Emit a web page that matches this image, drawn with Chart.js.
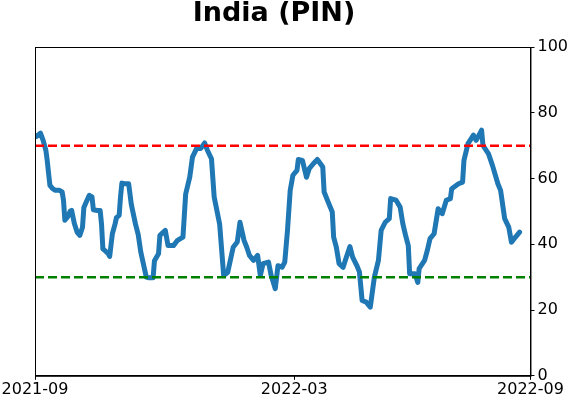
<!DOCTYPE html>
<html>
<head>
<meta charset="utf-8">
<script src="https://cdn.jsdelivr.net/npm/chart.js@4/dist/chart.umd.min.js"></script>
<style>
  html, body { margin: 0; padding: 0; background: #fff; }
  #wrap { width: 571px; height: 402px; }
</style>
</head>
<body>
<div id="wrap"><canvas id="chart"></canvas></div>
<script>
// ── Data (days since 2021-09-01, indicator value) ──────
const dayOffsets = [
    1, 4, 6, 8, 9, 10, 11, 13, 15, 18, 20, 21, 22, 24, 26, 27, 29, 31, 33, 35,
    36, 38, 40, 42, 43, 46, 48, 49, 50, 52, 54, 55, 57, 59, 60, 62, 63, 64, 66, 69,
    71, 74, 76, 78, 82, 84, 87, 88, 91, 92, 96, 98, 102, 105, 109, 111, 114, 116, 119, 122,
    125, 127, 130, 132, 136, 139, 142, 146, 149, 151, 154, 156, 158, 161, 164, 166, 168, 172, 174, 177,
    179, 182, 184, 186, 188, 190, 193, 194, 197, 200, 202, 205, 208, 212, 213, 216, 219, 220, 222, 224,
    227, 229, 232, 234, 237, 239, 241, 244, 247, 250, 253, 255, 258, 261, 262, 266, 269, 271, 273, 275,
    276, 280, 282, 283, 287, 289, 291, 294, 297, 300, 303, 306, 307, 312, 315, 316, 319, 323, 325, 329,
    330, 334, 337, 341, 343, 346, 349, 351, 354, 357
];
const pinValues = [
    72.8, 73.8, 71.6, 68.6, 65.5, 61.6, 57.9, 56.9, 56.4, 56.4, 55.9, 53.4, 47.3, 48.3, 50.1, 50.3, 46.3, 43.7, 42.7, 45.2,
    51.2, 53.1, 54.9, 54.4, 50.5, 50.3, 50.3, 46.2, 38.6, 37.9, 37.1, 36.3, 43.2, 46.2, 48.1, 48.8, 54.4, 58.6, 58.4, 58.4,
    52.0, 46.2, 43.0, 37.5, 30.0, 29.8, 29.8, 35.0, 37.1, 42.7, 44.2, 39.6, 39.6, 41.2, 42.2, 55.3, 60.4, 66.5, 69.1, 69.1,
    70.8, 68.6, 66.0, 54.4, 46.2, 30.5, 31.5, 39.1, 40.7, 46.7, 41.2, 39.1, 36.6, 35.1, 36.6, 30.5, 34.1, 34.6, 30.5, 26.5,
    33.5, 33.0, 34.6, 44.2, 56.4, 61.0, 62.5, 65.8, 65.5, 60.4, 63.0, 64.5, 65.8, 63.5, 55.9, 52.8, 49.8, 42.2, 39.1, 34.1,
    33.0, 35.6, 39.3, 36.1, 33.6, 31.6, 22.9, 22.4, 20.9, 30.0, 35.1, 44.2, 46.7, 47.8, 53.9, 53.4, 51.3, 46.2, 42.7, 39.6,
    31.0, 31.0, 28.4, 32.6, 35.1, 38.1, 41.7, 43.2, 50.8, 49.3, 53.4, 53.9, 56.9, 58.4, 58.9, 65.5, 70.6, 73.2, 71.6, 74.7,
    70.1, 67.6, 64.0, 58.4, 56.4, 47.8, 45.2, 40.6, 42.2, 43.7
];

// reference levels
const upperLevel = 70;
const lowerLevel = 30;

// x axis ticks (positions in days) and labels
const xTickDays   = [0, 191, 365];
const xTickLabels = ["2021-09", "2022-03", "2022-09"];
const yTicks      = [0, 20, 40, 60, 80, 100];
const chartTitle  = "India (PIN)";

const pinPoints = dayOffsets.map((d, i) => ({ x: d, y: pinValues[i] }));
const xMin = xTickDays[0];
const xMax = xTickDays[xTickDays.length - 1];

// ── Frame (matplotlib-style box) and title ─────────────
const framePlugin = {
    id: "frame",
    afterDraw(chart) {
        const { ctx, chartArea: a } = chart;
        ctx.save();
        ctx.strokeStyle = "#000";
        ctx.lineWidth = 1;
        ctx.strokeRect(a.left + 0.5, a.top + 0.5, a.right - a.left, a.bottom - a.top);

        ctx.fillStyle = "#000";
        ctx.font = "bold 27px 'DejaVu Sans', sans-serif";
        ctx.textAlign = "center";
        ctx.textBaseline = "alphabetic";
        ctx.fillText(chartTitle, 274, 21);
        ctx.restore();
    }
};

const font = { family: "'DejaVu Sans', sans-serif", size: 16 };

new Chart(document.getElementById("chart"), {
    type: "line",
    data: {
        datasets: [
            {
                label: "upper",
                data: [{ x: xMin, y: upperLevel }, { x: xMax, y: upperLevel }],
                borderColor: "#ff0000",
                borderWidth: 2.5,
                borderDash: [9, 4],
                pointRadius: 0
            },
            {
                label: "lower",
                data: [{ x: xMin, y: lowerLevel }, { x: xMax, y: lowerLevel }],
                borderColor: "#008000",
                borderWidth: 2.5,
                borderDash: [9, 4],
                pointRadius: 0
            },
            {
                label: chartTitle,
                data: pinPoints,
                borderColor: "#1f77b4",
                borderWidth: 5,
                pointRadius: 0,
                tension: 0,
                borderJoinStyle: "round",
                borderCapStyle: "round"
            }
        ]
    },
    options: {
        responsive: true,
        maintainAspectRatio: false,
        animation: false,
        layout: { padding: { top: 47, left: 35, right: 0, bottom: 3 } },
        plugins: {
            legend: { display: false },
            tooltip: { enabled: false },
            title: { display: false }
        },
        scales: {
            x: {
                type: "linear",
                min: xMin,
                max: xMax,
                afterBuildTicks: axis => { axis.ticks = xTickDays.map(v => ({ value: v })); },
                ticks: {
                    color: "#000",
                    font: font,
                    padding: 0,
                    maxRotation: 0,
                    callback: v => xTickLabels[xTickDays.indexOf(v)]
                },
                grid: { drawOnChartArea: false, drawTicks: true, tickLength: 4, color: "#000" },
                border: { display: true, color: "#000" }
            },
            y: {
                position: "right",
                min: 0,
                max: 100,
                afterBuildTicks: axis => { axis.ticks = yTicks.map(v => ({ value: v })); },
                ticks: { color: "#000", font: font, padding: 3 },
                grid: { drawOnChartArea: false, drawTicks: true, tickLength: 4, color: "#000" },
                border: { display: true, color: "#000" }
            }
        }
    },
    plugins: [framePlugin]
});
</script>
</body>
</html>
